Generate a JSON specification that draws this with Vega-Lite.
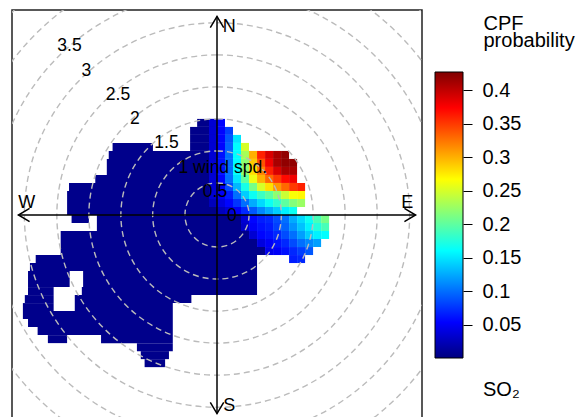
{
  "$schema": "https://vega.github.io/schema/vega-lite/v6.json",
  "width": 410,
  "height": 410,
  "autosize": {"type": "none"},
  "padding": {"left": 12, "top": 10, "right": 161, "bottom": 0},
  "config": {"view": {"stroke": "#222", "strokeWidth": 1.5}, "font": "Liberation Sans"},
  "layer": [
    {
      "layer": [
        {
          "data": {"values": [
            {"x1":-0.31,"x2":0,"y1":1.375,"y2":1.5,"p":0.005},
            {"x1":-0.42,"x2":0,"y1":1.25,"y2":1.375,"p":0.005},
            {"x1":-0.42,"x2":0,"y1":1.125,"y2":1.25,"p":0.005},
            {"x1":-1.63,"x2":-1,"y1":1,"y2":1.125,"p":0.005},
            {"x1":-0.42,"x2":0,"y1":1,"y2":1.125,"p":0.005},
            {"x1":-1.69,"x2":0,"y1":0.875,"y2":1,"p":0.005},
            {"x1":-1.72,"x2":0,"y1":0.75,"y2":0.875,"p":0.005},
            {"x1":-1.72,"x2":0,"y1":0.625,"y2":0.75,"p":0.005},
            {"x1":-1.9,"x2":0,"y1":0.5,"y2":0.625,"p":0.005},
            {"x1":-2.31,"x2":0,"y1":0.375,"y2":0.5,"p":0.005},
            {"x1":-2.34,"x2":0,"y1":0.25,"y2":0.375,"p":0.005},
            {"x1":-2.34,"x2":0,"y1":0.125,"y2":0.25,"p":0.005},
            {"x1":-2.34,"x2":0,"y1":0,"y2":0.125,"p":0.005},
            {"x1":-2.27,"x2":-2,"y1":-0.125,"y2":0,"p":0.005},
            {"x1":-1.875,"x2":0.375,"y1":-0.125,"y2":0,"p":0.005},
            {"x1":-1.875,"x2":0.375,"y1":-0.25,"y2":-0.125,"p":0.005},
            {"x1":-2.44,"x2":0.5,"y1":-0.375,"y2":-0.25,"p":0.005},
            {"x1":-2.44,"x2":0.625,"y1":-0.5,"y2":-0.375,"p":0.005},
            {"x1":-2.44,"x2":0.75,"y1":-0.625,"y2":-0.5,"p":0.005},
            {"x1":-2.83,"x2":0.625,"y1":-0.75,"y2":-0.625,"p":0.005},
            {"x1":-2.92,"x2":0.625,"y1":-0.875,"y2":-0.75,"p":0.005},
            {"x1":-2.95,"x2":-2.3,"y1":-1,"y2":-0.875,"p":0.005},
            {"x1":-2.09,"x2":0.625,"y1":-1,"y2":-0.875,"p":0.005},
            {"x1":-2.95,"x2":-2.3,"y1":-1.125,"y2":-1,"p":0.005},
            {"x1":-2.09,"x2":0.625,"y1":-1.125,"y2":-1,"p":0.005},
            {"x1":-2.95,"x2":-2.55,"y1":-1.25,"y2":-1.125,"p":0.005},
            {"x1":-2.11,"x2":0.625,"y1":-1.25,"y2":-1.125,"p":0.005},
            {"x1":-3,"x2":-2.55,"y1":-1.375,"y2":-1.25,"p":0.005},
            {"x1":-2.22,"x2":-0.4,"y1":-1.375,"y2":-1.25,"p":0.005},
            {"x1":-3.03,"x2":-2.55,"y1":-1.5,"y2":-1.375,"p":0.005},
            {"x1":-2.22,"x2":-0.69,"y1":-1.5,"y2":-1.375,"p":0.005},
            {"x1":-3.03,"x2":-0.69,"y1":-1.625,"y2":-1.5,"p":0.005},
            {"x1":-2.95,"x2":-0.69,"y1":-1.75,"y2":-1.625,"p":0.005},
            {"x1":-2.8,"x2":-0.69,"y1":-1.875,"y2":-1.75,"p":0.005},
            {"x1":-2.64,"x2":-2.34,"y1":-2,"y2":-1.875,"p":0.005},
            {"x1":-1.81,"x2":-0.69,"y1":-2,"y2":-1.875,"p":0.005},
            {"x1":-1.25,"x2":-0.69,"y1":-2.125,"y2":-2,"p":0.005},
            {"x1":-1.19,"x2":-0.75,"y1":-2.25,"y2":-2.125,"p":0.005},
            {"x1":-1.13,"x2":-0.81,"y1":-2.375,"y2":-2.25,"p":0.005},

            {"x1":-0.125,"x2":0,"y1":1.375,"y2":1.5,"p":0.035},
            {"x1":0,"x2":0.125,"y1":1.375,"y2":1.5,"p":0.055},

            {"x1":-0.125,"x2":0,"y1":1.25,"y2":1.375,"p":0.035},
            {"x1":0,"x2":0.125,"y1":1.25,"y2":1.375,"p":0.055},
            {"x1":0.125,"x2":0.25,"y1":1.25,"y2":1.375,"p":0.08},

            {"x1":-0.125,"x2":0,"y1":1.125,"y2":1.25,"p":0.035},
            {"x1":0,"x2":0.125,"y1":1.125,"y2":1.25,"p":0.055},
            {"x1":0.125,"x2":0.25,"y1":1.125,"y2":1.25,"p":0.09},
            {"x1":0.25,"x2":0.375,"y1":1.125,"y2":1.25,"p":0.15},

            {"x1":-0.125,"x2":0,"y1":1,"y2":1.125,"p":0.035},
            {"x1":0,"x2":0.125,"y1":1,"y2":1.125,"p":0.055},
            {"x1":0.125,"x2":0.25,"y1":1,"y2":1.125,"p":0.095},
            {"x1":0.25,"x2":0.375,"y1":1,"y2":1.125,"p":0.16},
            {"x1":0.375,"x2":0.5,"y1":1,"y2":1.125,"p":0.25},

            {"x1":-0.125,"x2":0,"y1":0.875,"y2":1,"p":0.035},
            {"x1":0,"x2":0.125,"y1":0.875,"y2":1,"p":0.06},
            {"x1":0.125,"x2":0.25,"y1":0.875,"y2":1,"p":0.1},
            {"x1":0.25,"x2":0.375,"y1":0.875,"y2":1,"p":0.16},
            {"x1":0.375,"x2":0.5,"y1":0.875,"y2":1,"p":0.23},
            {"x1":0.5,"x2":0.625,"y1":0.875,"y2":1,"p":0.3},
            {"x1":0.625,"x2":0.75,"y1":0.875,"y2":1,"p":0.36},
            {"x1":0.75,"x2":0.875,"y1":0.875,"y2":1,"p":0.39},
            {"x1":0.875,"x2":1,"y1":0.875,"y2":1,"p":0.41},
            {"x1":1,"x2":1.125,"y1":0.875,"y2":1,"p":0.42},

            {"x1":-0.125,"x2":0,"y1":0.75,"y2":0.875,"p":0.035},
            {"x1":0,"x2":0.125,"y1":0.75,"y2":0.875,"p":0.06},
            {"x1":0.125,"x2":0.25,"y1":0.75,"y2":0.875,"p":0.1},
            {"x1":0.25,"x2":0.375,"y1":0.75,"y2":0.875,"p":0.16},
            {"x1":0.375,"x2":0.5,"y1":0.75,"y2":0.875,"p":0.22},
            {"x1":0.5,"x2":0.625,"y1":0.75,"y2":0.875,"p":0.29},
            {"x1":0.625,"x2":0.75,"y1":0.75,"y2":0.875,"p":0.34},
            {"x1":0.75,"x2":0.875,"y1":0.75,"y2":0.875,"p":0.38},
            {"x1":0.875,"x2":1,"y1":0.75,"y2":0.875,"p":0.41},
            {"x1":1,"x2":1.125,"y1":0.75,"y2":0.875,"p":0.42},
            {"x1":1.125,"x2":1.25,"y1":0.75,"y2":0.875,"p":0.42},

            {"x1":-0.125,"x2":0,"y1":0.625,"y2":0.75,"p":0.035},
            {"x1":0,"x2":0.125,"y1":0.625,"y2":0.75,"p":0.06},
            {"x1":0.125,"x2":0.25,"y1":0.625,"y2":0.75,"p":0.1},
            {"x1":0.25,"x2":0.375,"y1":0.625,"y2":0.75,"p":0.16},
            {"x1":0.375,"x2":0.5,"y1":0.625,"y2":0.75,"p":0.22},
            {"x1":0.5,"x2":0.625,"y1":0.625,"y2":0.75,"p":0.28},
            {"x1":0.625,"x2":0.75,"y1":0.625,"y2":0.75,"p":0.32},
            {"x1":0.75,"x2":0.875,"y1":0.625,"y2":0.75,"p":0.36},
            {"x1":0.875,"x2":1,"y1":0.625,"y2":0.75,"p":0.39},
            {"x1":1,"x2":1.125,"y1":0.625,"y2":0.75,"p":0.41},
            {"x1":1.125,"x2":1.25,"y1":0.625,"y2":0.75,"p":0.41},

            {"x1":-0.125,"x2":0,"y1":0.5,"y2":0.625,"p":0.035},
            {"x1":0,"x2":0.125,"y1":0.5,"y2":0.625,"p":0.055},
            {"x1":0.125,"x2":0.25,"y1":0.5,"y2":0.625,"p":0.1},
            {"x1":0.25,"x2":0.375,"y1":0.5,"y2":0.625,"p":0.15},
            {"x1":0.375,"x2":0.5,"y1":0.5,"y2":0.625,"p":0.2},
            {"x1":0.5,"x2":0.625,"y1":0.5,"y2":0.625,"p":0.26},
            {"x1":0.625,"x2":0.75,"y1":0.5,"y2":0.625,"p":0.3},
            {"x1":0.75,"x2":0.875,"y1":0.5,"y2":0.625,"p":0.33},
            {"x1":0.875,"x2":1,"y1":0.5,"y2":0.625,"p":0.35},
            {"x1":1,"x2":1.125,"y1":0.5,"y2":0.625,"p":0.37},
            {"x1":1.125,"x2":1.25,"y1":0.5,"y2":0.625,"p":0.38},

            {"x1":-0.125,"x2":0,"y1":0.375,"y2":0.5,"p":0.035},
            {"x1":0,"x2":0.125,"y1":0.375,"y2":0.5,"p":0.05},
            {"x1":0.125,"x2":0.25,"y1":0.375,"y2":0.5,"p":0.085},
            {"x1":0.25,"x2":0.375,"y1":0.375,"y2":0.5,"p":0.13},
            {"x1":0.375,"x2":0.5,"y1":0.375,"y2":0.5,"p":0.17},
            {"x1":0.5,"x2":0.625,"y1":0.375,"y2":0.5,"p":0.21},
            {"x1":0.625,"x2":0.75,"y1":0.375,"y2":0.5,"p":0.25},
            {"x1":0.75,"x2":0.875,"y1":0.375,"y2":0.5,"p":0.28},
            {"x1":0.875,"x2":1,"y1":0.375,"y2":0.5,"p":0.31},
            {"x1":1,"x2":1.125,"y1":0.375,"y2":0.5,"p":0.33},
            {"x1":1.125,"x2":1.25,"y1":0.375,"y2":0.5,"p":0.35},
            {"x1":1.25,"x2":1.375,"y1":0.375,"y2":0.5,"p":0.36},

            {"x1":-0.125,"x2":0,"y1":0.25,"y2":0.375,"p":0.035},
            {"x1":0,"x2":0.125,"y1":0.25,"y2":0.375,"p":0.05},
            {"x1":0.125,"x2":0.25,"y1":0.25,"y2":0.375,"p":0.065},
            {"x1":0.25,"x2":0.375,"y1":0.25,"y2":0.375,"p":0.1},
            {"x1":0.375,"x2":0.5,"y1":0.25,"y2":0.375,"p":0.14},
            {"x1":0.5,"x2":0.625,"y1":0.25,"y2":0.375,"p":0.165},
            {"x1":0.625,"x2":0.75,"y1":0.25,"y2":0.375,"p":0.185},
            {"x1":0.75,"x2":0.875,"y1":0.25,"y2":0.375,"p":0.2},
            {"x1":0.875,"x2":1,"y1":0.25,"y2":0.375,"p":0.22},
            {"x1":1,"x2":1.125,"y1":0.25,"y2":0.375,"p":0.245},
            {"x1":1.125,"x2":1.25,"y1":0.25,"y2":0.375,"p":0.265},
            {"x1":1.25,"x2":1.375,"y1":0.25,"y2":0.375,"p":0.27},

            {"x1":-0.125,"x2":0,"y1":0.125,"y2":0.25,"p":0.025},
            {"x1":0,"x2":0.125,"y1":0.125,"y2":0.25,"p":0.04},
            {"x1":0.125,"x2":0.25,"y1":0.125,"y2":0.25,"p":0.055},
            {"x1":0.25,"x2":0.375,"y1":0.125,"y2":0.25,"p":0.075},
            {"x1":0.375,"x2":0.5,"y1":0.125,"y2":0.25,"p":0.1},
            {"x1":0.5,"x2":0.625,"y1":0.125,"y2":0.25,"p":0.125},
            {"x1":0.625,"x2":0.75,"y1":0.125,"y2":0.25,"p":0.145},
            {"x1":0.75,"x2":0.875,"y1":0.125,"y2":0.25,"p":0.165},
            {"x1":0.875,"x2":1,"y1":0.125,"y2":0.25,"p":0.18},
            {"x1":1,"x2":1.125,"y1":0.125,"y2":0.25,"p":0.2},
            {"x1":1.125,"x2":1.25,"y1":0.125,"y2":0.25,"p":0.215},
            {"x1":1.25,"x2":1.375,"y1":0.125,"y2":0.25,"p":0.225},

            {"x1":0,"x2":0.125,"y1":0,"y2":0.125,"p":0.025},
            {"x1":0.125,"x2":0.25,"y1":0,"y2":0.125,"p":0.035},
            {"x1":0.25,"x2":0.375,"y1":0,"y2":0.125,"p":0.05},
            {"x1":0.375,"x2":0.5,"y1":0,"y2":0.125,"p":0.07},
            {"x1":0.5,"x2":0.625,"y1":0,"y2":0.125,"p":0.09},
            {"x1":0.625,"x2":0.75,"y1":0,"y2":0.125,"p":0.11},
            {"x1":0.75,"x2":0.875,"y1":0,"y2":0.125,"p":0.125},
            {"x1":0.875,"x2":1,"y1":0,"y2":0.125,"p":0.14},
            {"x1":1,"x2":1.125,"y1":0,"y2":0.125,"p":0.155},
            {"x1":1.125,"x2":1.25,"y1":0,"y2":0.125,"p":0.165},

            {"x1":0.375,"x2":0.5,"y1":-0.125,"y2":0,"p":0.035},
            {"x1":0.5,"x2":0.625,"y1":-0.125,"y2":0,"p":0.055},
            {"x1":0.625,"x2":0.75,"y1":-0.125,"y2":0,"p":0.065},
            {"x1":0.75,"x2":0.875,"y1":-0.125,"y2":0,"p":0.07},
            {"x1":0.875,"x2":1,"y1":-0.125,"y2":0,"p":0.085},
            {"x1":1,"x2":1.125,"y1":-0.125,"y2":0,"p":0.1},
            {"x1":1.125,"x2":1.25,"y1":-0.125,"y2":0,"p":0.125},
            {"x1":1.25,"x2":1.375,"y1":-0.125,"y2":0,"p":0.145},
            {"x1":1.375,"x2":1.5,"y1":-0.125,"y2":0,"p":0.165},
            {"x1":1.5,"x2":1.625,"y1":-0.125,"y2":0,"p":0.19},
            {"x1":1.625,"x2":1.75,"y1":-0.125,"y2":0,"p":0.21},

            {"x1":0.375,"x2":0.5,"y1":-0.25,"y2":-0.125,"p":0.03},
            {"x1":0.5,"x2":0.625,"y1":-0.25,"y2":-0.125,"p":0.05},
            {"x1":0.625,"x2":0.75,"y1":-0.25,"y2":-0.125,"p":0.06},
            {"x1":0.75,"x2":0.875,"y1":-0.25,"y2":-0.125,"p":0.065},
            {"x1":0.875,"x2":1,"y1":-0.25,"y2":-0.125,"p":0.08},
            {"x1":1,"x2":1.125,"y1":-0.25,"y2":-0.125,"p":0.095},
            {"x1":1.125,"x2":1.25,"y1":-0.25,"y2":-0.125,"p":0.115},
            {"x1":1.25,"x2":1.375,"y1":-0.25,"y2":-0.125,"p":0.135},
            {"x1":1.375,"x2":1.5,"y1":-0.25,"y2":-0.125,"p":0.155},
            {"x1":1.5,"x2":1.625,"y1":-0.25,"y2":-0.125,"p":0.175},
            {"x1":1.625,"x2":1.75,"y1":-0.25,"y2":-0.125,"p":0.19},

            {"x1":0.5,"x2":0.625,"y1":-0.375,"y2":-0.25,"p":0.035},
            {"x1":0.625,"x2":0.75,"y1":-0.375,"y2":-0.25,"p":0.055},
            {"x1":0.75,"x2":0.875,"y1":-0.375,"y2":-0.25,"p":0.06},
            {"x1":0.875,"x2":1,"y1":-0.375,"y2":-0.25,"p":0.07},
            {"x1":1,"x2":1.125,"y1":-0.375,"y2":-0.25,"p":0.085},
            {"x1":1.125,"x2":1.25,"y1":-0.375,"y2":-0.25,"p":0.1},
            {"x1":1.25,"x2":1.375,"y1":-0.375,"y2":-0.25,"p":0.12},
            {"x1":1.375,"x2":1.5,"y1":-0.375,"y2":-0.25,"p":0.14},
            {"x1":1.5,"x2":1.625,"y1":-0.375,"y2":-0.25,"p":0.155},
            {"x1":1.625,"x2":1.75,"y1":-0.375,"y2":-0.25,"p":0.16},

            {"x1":0.625,"x2":0.75,"y1":-0.5,"y2":-0.375,"p":0.04},
            {"x1":0.75,"x2":0.875,"y1":-0.5,"y2":-0.375,"p":0.05},
            {"x1":0.875,"x2":1,"y1":-0.5,"y2":-0.375,"p":0.06},
            {"x1":1,"x2":1.125,"y1":-0.5,"y2":-0.375,"p":0.07},
            {"x1":1.125,"x2":1.25,"y1":-0.5,"y2":-0.375,"p":0.085},
            {"x1":1.25,"x2":1.375,"y1":-0.5,"y2":-0.375,"p":0.1},
            {"x1":1.375,"x2":1.5,"y1":-0.5,"y2":-0.375,"p":0.11},
            {"x1":1.5,"x2":1.625,"y1":-0.5,"y2":-0.375,"p":0.12},

            {"x1":0.75,"x2":0.875,"y1":-0.625,"y2":-0.5,"p":0.045},
            {"x1":0.875,"x2":1,"y1":-0.625,"y2":-0.5,"p":0.05},
            {"x1":1,"x2":1.125,"y1":-0.625,"y2":-0.5,"p":0.06},
            {"x1":1.125,"x2":1.25,"y1":-0.625,"y2":-0.5,"p":0.07},
            {"x1":1.25,"x2":1.375,"y1":-0.625,"y2":-0.5,"p":0.08},
            {"x1":1.375,"x2":1.5,"y1":-0.625,"y2":-0.5,"p":0.09},

            {"x1":1.125,"x2":1.25,"y1":-0.75,"y2":-0.625,"p":0.065},
            {"x1":1.25,"x2":1.375,"y1":-0.75,"y2":-0.625,"p":0.07}
          ]},
          "mark": {"type": "rect"},
          "encoding": {
            "x": {"field": "x1", "type": "quantitative", "scale": {"domain": [-3.2, 3.2], "nice": false, "zero": false}, "axis": null},
            "x2": {"field": "x2"},
            "y": {"field": "y1", "type": "quantitative", "scale": {"domain": [-3.2, 3.2], "nice": false, "zero": false}, "axis": null},
            "y2": {"field": "y2"},
            "color": {
              "field": "p", "type": "quantitative", "legend": null,
              "scale": {
                "domain": [0, 0.0534, 0.1068, 0.1603, 0.2137, 0.2671, 0.3205, 0.374, 0.4274],
                "range": ["#00007F", "#0000FF", "#007FFF", "#00FFFF", "#7FFF7F", "#FFFF00", "#FF7F00", "#FF0000", "#7F0000"],
                "interpolate": "rgb"
              }
            }
          }
        },
        {
          "data": {"values": [{"r": 0.5}, {"r": 1}, {"r": 1.5}, {"r": 2}, {"r": 2.5}, {"r": 3}, {"r": 3.5}, {"r": 4}, {"r": 4.5}]},
          "mark": {"type": "arc", "theta": 0, "theta2": 6.2832, "filled": false, "color": "#bbbbbb", "strokeWidth": 1.4, "strokeDash": [6, 4], "clip": true},
          "encoding": {
            "radius": {"field": "r", "type": "quantitative", "stack": null, "scale": {"type": "linear", "domain": [0, 3.2], "range": [0, 205], "zero": true}}
          }
        },
        {
          "data": {"values": [{"x": -3.1, "y": 0, "x2": 3.1, "y2": 0}, {"x": 0, "y": -3.1, "x2": 0, "y2": 3.1}]},
          "mark": {"type": "rule", "color": "black", "strokeWidth": 1.5},
          "encoding": {
            "x": {"field": "x", "type": "quantitative", "scale": {"domain": [-3.2, 3.2], "nice": false, "zero": false}, "axis": null},
            "x2": {"field": "x2"},
            "y": {"field": "y", "type": "quantitative", "scale": {"domain": [-3.2, 3.2], "nice": false, "zero": false}, "axis": null},
            "y2": {"field": "y2"}
          }
        },
        {
          "data": {"values": [{"dir": "N", "x": 0, "y": 3.1}, {"dir": "E", "x": 3.1, "y": 0}, {"dir": "S", "x": 0, "y": -3.1}, {"dir": "W", "x": -3.1, "y": 0}]},
          "mark": {"type": "point", "filled": false, "color": "black", "strokeWidth": 1.5, "size": 500, "opacity": 1},
          "encoding": {
            "x": {"field": "x", "type": "quantitative", "scale": {"domain": [-3.2, 3.2], "nice": false, "zero": false}, "axis": null},
            "y": {"field": "y", "type": "quantitative", "scale": {"domain": [-3.2, 3.2], "nice": false, "zero": false}, "axis": null},
            "shape": {
              "field": "dir", "type": "nominal", "legend": null,
              "scale": {
                "domain": ["N", "E", "S", "W"],
                "range": ["M -0.6 1 L 0 0 L 0.6 1", "M -1 -0.6 L 0 0 L -1 0.6", "M -0.6 -1 L 0 0 L 0.6 -1", "M 1 -0.6 L 0 0 L 1 0.6"]
              }
            }
          }
        },
        {
          "data": {"values": [{"lab": "N", "x": 0.19, "y": 2.94}, {"lab": "E", "x": 2.97, "y": 0.19}, {"lab": "S", "x": 0.19, "y": -2.98}, {"lab": "W", "x": -2.97, "y": 0.19}]},
          "mark": {"type": "text", "fontSize": 18, "color": "black", "align": "center", "baseline": "middle"},
          "encoding": {
            "x": {"field": "x", "type": "quantitative", "scale": {"domain": [-3.2, 3.2], "nice": false, "zero": false}, "axis": null},
            "y": {"field": "y", "type": "quantitative", "scale": {"domain": [-3.2, 3.2], "nice": false, "zero": false}, "axis": null},
            "text": {"field": "lab"}
          }
        },
        {
          "data": {"values": [
            {"lab": "0", "x": 0, "y": 0},
            {"lab": "0.5", "x": -0.378, "y": 0.378},
            {"lab": "1 wind spd.", "x": -0.757, "y": 0.757},
            {"lab": "1.5", "x": -1.135, "y": 1.135},
            {"lab": "2", "x": -1.513, "y": 1.513},
            {"lab": "2.5", "x": -1.892, "y": 1.892},
            {"lab": "3", "x": -2.27, "y": 2.27},
            {"lab": "3.5", "x": -2.648, "y": 2.648}
          ]},
          "mark": {"type": "text", "fontSize": 17.5, "color": "black", "align": "left", "baseline": "middle", "dx": 10, "dy": 1},
          "encoding": {
            "x": {"field": "x", "type": "quantitative", "scale": {"domain": [-3.2, 3.2], "nice": false, "zero": false}, "axis": null},
            "y": {"field": "y", "type": "quantitative", "scale": {"domain": [-3.2, 3.2], "nice": false, "zero": false}, "axis": null},
            "text": {"field": "lab"}
          }
        }
      ]
    },
    {
      "layer": [
        {
          "data": {"values": [{"lo": 0, "hi": 0.4274}]},
          "mark": {
            "type": "rect", "stroke": "black", "strokeWidth": 1,
            "fill": {
              "gradient": "linear", "x1": 0, "y1": 1, "x2": 0, "y2": 0,
              "stops": [
                {"offset": 0, "color": "#00007F"},
                {"offset": 0.125, "color": "#0000FF"},
                {"offset": 0.25, "color": "#007FFF"},
                {"offset": 0.375, "color": "#00FFFF"},
                {"offset": 0.5, "color": "#7FFF7F"},
                {"offset": 0.625, "color": "#FFFF00"},
                {"offset": 0.75, "color": "#FF7F00"},
                {"offset": 0.875, "color": "#FF0000"},
                {"offset": 1, "color": "#7F0000"}
              ]
            }
          },
          "encoding": {
            "x": {"datum": 0, "type": "quantitative", "scale": {"domain": [0, 1], "range": [423, 451], "nice": false, "zero": false}, "axis": null},
            "x2": {"datum": 1},
            "y": {
              "field": "lo", "type": "quantitative",
              "scale": {"domain": [0, 0.4274], "range": [348, 62], "nice": false, "zero": false},
              "axis": {
                "orient": "right", "offset": 41,
                "values": [0.05, 0.1, 0.15, 0.2, 0.25, 0.3, 0.35, 0.4],
                "format": ".2~f",
                "domain": false, "grid": false,
                "ticks": true, "tickSize": 9, "tickColor": "black", "tickWidth": 1,
                "labelFontSize": 20, "labelColor": "black", "labelPadding": 10,
                "labelFlush": false, "labelOverlap": false,
                "title": ["CPF", "probability"],
                "titleAngle": 0, "titleAlign": "left", "titleBaseline": "alphabetic",
                "titleX": 20, "titleY": 19, "titleFontSize": 20, "titleFontWeight": "normal",
                "titleColor": "black", "titleLineHeight": 17
              }
            },
            "y2": {"field": "hi"}
          }
        },
        {
          "data": {"values": [{}]},
          "mark": {"type": "text", "text": "SO₂", "fontSize": 20, "color": "black", "align": "left", "baseline": "alphabetic"},
          "encoding": {
            "x": {"datum": 1.714, "type": "quantitative", "scale": {"domain": [0, 1], "range": [423, 451], "nice": false, "zero": false}, "axis": null},
            "y": {"datum": -0.0572, "type": "quantitative", "scale": {"domain": [0, 0.4274], "range": [348, 62], "nice": false, "zero": false}}
          }
        }
      ]
    }
  ],
  "resolve": {"scale": {"x": "independent", "y": "independent"}, "axis": {"x": "independent", "y": "independent"}}
}
